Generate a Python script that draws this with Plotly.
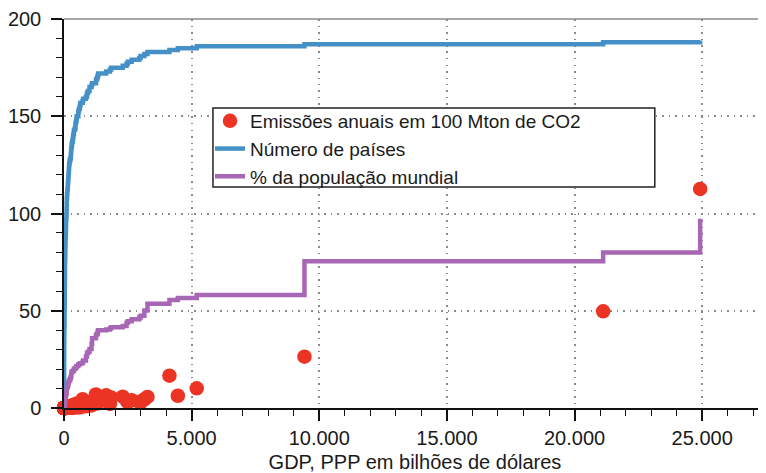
import numpy as np
import plotly.graph_objects as go

# Countries sorted by GDP (PPP, billions of international dollars)
country = [
    "Tuvalu", "Nauru", "Marshall Is.", "Palau", "Kiribati", "Micronesia", "Tonga", "Sao Tome", "Dominica", "Vanuatu",
    "Samoa", "St Kitts", "St Vincent", "Solomon Is.", "Grenada", "Antigua", "Comoros", "St Lucia", "Seychelles", "Belize",
    "Cabo Verde", "Guinea-Bissau", "Barbados", "Timor-Leste", "CAR", "Lesotho", "Gambia", "Djibouti", "Eritrea", "Liberia",
    "Maldives", "Bhutan", "Suriname", "Burundi", "Somalia", "Fiji", "Eswatini", "Bahamas", "Guyana", "Montenegro",
    "Sierra Leone", "Togo", "South Sudan", "Iceland", "Kosovo", "Congo", "Malta", "Mauritania", "Namibia", "Chad",
    "Eq. Guinea", "Mauritius", "Jamaica", "Brunei", "Malawi", "Rwanda", "West Bank & Gaza", "Niger", "Tajikistan", "Kyrgyzstan",
    "Gabon", "Haiti", "Nicaragua", "North Macedonia", "Cyprus", "Moldova", "Trinidad", "Papua NG", "Zimbabwe", "Guinea",
    "Botswana", "Albania", "Mongolia", "Armenia", "Mozambique", "Benin", "Madagascar", "Burkina Faso", "Mali", "Estonia",
    "Bosnia", "Georgia", "El Salvador", "Honduras", "Latvia", "Laos", "Senegal", "Zambia", "Libya", "Yemen",
    "Cambodia", "Bahrain", "Luxembourg", "Afghanistan", "Uruguay", "Lebanon", "Slovenia", "Bolivia", "Paraguay", "Cameroon",
    "Turkmenistan", "Cuba", "Uganda", "Jordan", "Costa Rica", "Nepal", "DR Congo", "Lithuania", "Croatia", "Panama",
    "Serbia", "Tunisia", "Cote d'Ivoire", "Azerbaijan", "Guatemala", "Oman", "Tanzania", "Bulgaria", "Ghana", "Sudan",
    "Slovakia", "Ecuador", "Belarus", "Dominican Rep.", "Kuwait", "Angola", "New Zealand", "Kenya", "Uzbekistan", "Qatar",
    "Morocco", "Myanmar", "Finland", "Ethiopia", "Sri Lanka", "Greece", "Hungary", "Denmark", "Norway", "Portugal",
    "Israel", "Iraq", "Peru", "Czechia", "Ireland", "Hong Kong", "Chile", "Algeria", "Austria", "Kazakhstan",
    "Ukraine", "Singapore", "Sweden", "Belgium", "Romania", "Switzerland", "UAE", "South Africa", "Colombia", "Bangladesh",
    "Philippines", "Malaysia", "Argentina", "Netherlands", "Vietnam", "Nigeria", "Pakistan", "Iran", "Thailand", "Australia",
    "Egypt", "Poland", "Saudi Arabia", "Spain", "Canada", "Korea", "Mexico", "Italy", "Turkey", "UK",
    "France", "Brazil", "Indonesia", "Russia", "Germany", "Japan", "India", "USA", "China",
]

gdp_bn = [
    0.06, 0.2, 0.2, 0.3, 0.3, 0.4, 0.7, 0.8, 1.0, 1.0,
    1.3, 1.5, 1.5, 1.5, 2.0, 2.0, 3.0, 3.0, 3.0, 3.0,
    4.0, 4.0, 5.0, 5.0, 5.0, 6.0, 6.0, 6.0, 7.0, 7.0,
    8.0, 8.0, 9.0, 9.0, 10.0, 11.0, 11.0, 12.0, 12.0, 12.0,
    14.0, 15.0, 19.0, 20.0, 20.0, 20.0, 21.0, 23.0, 24.0, 25.0,
    25.0, 27.0, 28.0, 28.0, 30.0, 30.0, 30.0, 32.0, 32.0, 32.0,
    33.0, 33.0, 35.0, 35.0, 35.0, 35.0, 35.0, 38.0, 40.0, 40.0,
    40.0, 40.0, 40.0, 40.0, 41.0, 42.0, 45.0, 48.0, 50.0, 50.0,
    50.0, 55.0, 55.0, 55.0, 60.0, 60.0, 60.0, 62.0, 70.0, 70.0,
    75.0, 75.0, 75.0, 80.0, 80.0, 80.0, 82.0, 95.0, 95.0, 100.0,
    100.0, 100.0, 105.0, 105.0, 105.0, 110.0, 110.0, 110.0, 120.0, 120.0,
    130.0, 130.0, 140.0, 150.0, 150.0, 155.0, 160.0, 170.0, 170.0, 180.0,
    180.0, 190.0, 190.0, 200.0, 200.0, 210.0, 220.0, 240.0, 260.0, 270.0,
    270.0, 280.0, 280.0, 290.0, 300.0, 310.0, 320.0, 340.0, 350.0, 360.0,
    370.0, 390.0, 390.0, 430.0, 450.0, 450.0, 460.0, 480.0, 490.0, 500.0,
    560.0, 560.0, 570.0, 590.0, 620.0, 630.0, 650.0, 730.0, 750.0, 860.0,
    900.0, 900.0, 940.0, 1000.0, 1000.0, 1080.0, 1100.0, 1250.0, 1260.0, 1300.0,
    1320.0, 1340.0, 1650.0, 1800.0, 1850.0, 2300.0, 2450.0, 2500.0, 2650.0, 2950.0,
    3000.0, 3150.0, 3270.0, 4130.0, 4460.0, 5200.0, 9420.0, 21120.0, 24920.0,
]

# Annual CO2 emissions, in units of 100 Mt
co2_100mt = [
    0.0001, 0.0005, 0.0015, 0.002, 0.0007, 0.001, 0.0015, 0.001, 0.002, 0.0015,
    0.003, 0.002, 0.003, 0.002, 0.003, 0.006, 0.003, 0.004, 0.006, 0.006,
    0.006, 0.003, 0.012, 0.005, 0.003, 0.005, 0.006, 0.005, 0.007, 0.01,
    0.015, 0.015, 0.02, 0.006, 0.007, 0.02, 0.01, 0.02, 0.025, 0.025,
    0.01, 0.03, 0.015, 0.02, 0.08, 0.03, 0.015, 0.03, 0.04, 0.01,
    0.06, 0.04, 0.07, 0.1, 0.015, 0.01, 0.03, 0.025, 0.08, 0.1,
    0.05, 0.03, 0.05, 0.07, 0.07, 0.05, 0.16, 0.07, 0.1, 0.03,
    0.06, 0.05, 0.3, 0.06, 0.08, 0.07, 0.04, 0.04, 0.04, 0.1,
    0.22, 0.1, 0.07, 0.1, 0.07, 0.18, 0.1, 0.07, 0.5, 0.1,
    0.15, 0.35, 0.08, 0.08, 0.06, 0.27, 0.13, 0.2, 0.08, 0.08,
    0.75, 0.25, 0.06, 0.25, 0.08, 0.15, 0.03, 0.13, 0.17, 0.1,
    0.46, 0.28, 0.11, 0.37, 0.19, 0.75, 0.13, 0.38, 0.18, 0.22,
    0.31, 0.35, 0.58, 0.25, 0.9, 0.25, 0.33, 0.18, 1.2, 1.0,
    0.65, 0.35, 0.38, 0.18, 0.2, 0.5, 0.47, 0.26, 0.4, 0.4,
    0.6, 1.7, 0.5, 0.9, 0.35, 0.35, 0.8, 1.6, 0.6, 2.3,
    1.9, 0.45, 0.4, 0.85, 0.7, 0.36, 1.9, 4.5, 0.9, 0.9,
    1.3, 2.5, 1.7, 1.4, 3.0, 1.3, 2.3, 7.0, 2.7, 3.9,
    2.4, 3.0, 6.5, 2.1, 5.4, 5.8, 3.8, 3.0, 4.0, 3.2,
    2.8, 4.5, 5.7, 16.6, 6.3, 10.1, 26.4, 49.7, 112.6,
]

# Share of world population, %
pop_pct = [
    0.0001, 0.0001, 0.0008, 0.0002, 0.0015, 0.0014, 0.0013, 0.0028, 0.0009, 0.004,
    0.0026, 0.0007, 0.0014, 0.009, 0.0014, 0.0013, 0.011, 0.0023, 0.0013, 0.005,
    0.007, 0.025, 0.004, 0.017, 0.06, 0.027, 0.03, 0.013, 0.045, 0.065,
    0.007, 0.01, 0.008, 0.15, 0.2, 0.011, 0.015, 0.005, 0.01, 0.008,
    0.1, 0.11, 0.14, 0.005, 0.023, 0.07, 0.007, 0.06, 0.032, 0.21,
    0.018, 0.016, 0.038, 0.006, 0.24, 0.17, 0.06, 0.31, 0.12, 0.084,
    0.028, 0.15, 0.085, 0.027, 0.015, 0.033, 0.018, 0.115, 0.19, 0.17,
    0.03, 0.036, 0.042, 0.038, 0.4, 0.155, 0.36, 0.27, 0.26, 0.017,
    0.042, 0.048, 0.083, 0.127, 0.024, 0.094, 0.21, 0.24, 0.088, 0.38,
    0.21, 0.022, 0.008, 0.5, 0.045, 0.087, 0.027, 0.15, 0.091, 0.34,
    0.077, 0.145, 0.59, 0.13, 0.065, 0.37, 1.15, 0.036, 0.052, 0.055,
    0.089, 0.15, 0.33, 0.13, 0.22, 0.065, 0.77, 0.089, 0.4, 0.56,
    0.07, 0.23, 0.12, 0.14, 0.055, 0.42, 0.065, 0.69, 0.44, 0.037,
    0.47, 0.69, 0.071, 1.47, 0.28, 0.137, 0.124, 0.074, 0.069, 0.132,
    0.118, 0.51, 0.42, 0.137, 0.064, 0.096, 0.24, 0.56, 0.114, 0.24,
    0.56, 0.073, 0.133, 0.147, 0.25, 0.11, 0.127, 0.76, 0.65, 2.11,
    1.41, 0.41, 0.58, 0.22, 1.25, 2.64, 2.83, 1.08, 0.9, 0.33,
    1.31, 0.49, 0.45, 0.6, 0.49, 0.66, 1.65, 0.77, 1.08, 0.86,
    0.86, 2.73, 3.5, 1.85, 1.07, 1.62, 17.3, 4.5, 17.4,
]

series_names = ["Emissões anuais em 100 Mton de CO2", "Número de países", "% da população mundial"]
x_title = "GDP, PPP em bilhões de dólares"

# Cumulative curves: countries with GDP below x, and their share of world population
n_countries = np.arange(1, len(gdp_bn) + 1)
pop_cum = np.cumsum(pop_pct)

RED = "#ec3424"
BLUE = "#4591c7"
PURPLE = "#a867b5"

fig = go.Figure()
fig.add_trace(go.Scatter(
    x=gdp_bn, y=co2_100mt, mode="markers", name=series_names[0], text=country,
    marker=dict(color=RED, size=14.5, line=dict(width=0)), cliponaxis=False,
))
fig.add_trace(go.Scatter(
    x=gdp_bn, y=n_countries, mode="lines", name=series_names[1], text=country,
    line=dict(color=BLUE, width=4.5, shape="hv"), cliponaxis=False,
))
fig.add_trace(go.Scatter(
    x=gdp_bn, y=pop_cum, mode="lines", name=series_names[2], text=country,
    line=dict(color=PURPLE, width=4.5, shape="hv"), cliponaxis=False,
))

axis_common = dict(
    showline=True, linecolor="#111", linewidth=1.5,
    ticks="outside", ticklen=11, tickwidth=1.5, tickcolor="#111",
    showgrid=True, gridcolor="#8a8a8a", gridwidth=1.5, griddash="1.5px,5px",
    zeroline=False, tickfont=dict(size=20, color="#1a1a1a"),
)

# The page body adds an 8px offset, so the figure is sized to end at the window edge.
fig.update_layout(
    width=758, height=465, autosize=False,
    margin=dict(l=51, r=0, t=11, b=65),
    paper_bgcolor="white", plot_bgcolor="white",
    font=dict(family="Liberation Sans, Arial, Helvetica, sans-serif", size=20, color="#1a1a1a"),
    separators=",.",
    showlegend=True,
    legend=dict(
        x=0.208, y=0.7866, xanchor="left", yanchor="top",
        bgcolor="rgba(0,0,0,0)", borderwidth=0,
        font=dict(size=19), tracegroupgap=0,
    ),
    xaxis=dict(
        range=[0, 27500], tick0=0, dtick=5000, tickformat=",d",
        minor=dict(dtick=1000, ticks="outside", ticklen=6, tickwidth=1.2, tickcolor="#111", showgrid=False),
        title=dict(text=x_title, font=dict(size=20), standoff=8),
        **axis_common,
    ),
    yaxis=dict(
        range=[0, 200], tick0=0, dtick=50,
        minor=dict(dtick=10, ticks="outside", ticklen=6, tickwidth=1.2, tickcolor="#111", showgrid=False),
        ticklabelstandoff=6,
        **axis_common,
    ),
    shapes=[
        # top frame line
        dict(type="line", xref="paper", yref="paper", x0=0, x1=1, y0=1, y1=1,
             line=dict(color="#8a8a8a", width=1.5)),
        # legend frame
        dict(type="rect", xref="paper", yref="paper", x0=0.2122, x1=0.8416, y0=0.5681, y1=0.7712,
             fillcolor="white", line=dict(color="#222", width=1.5), layer="above"),
    ],
)

fig.write_html("out.html")
